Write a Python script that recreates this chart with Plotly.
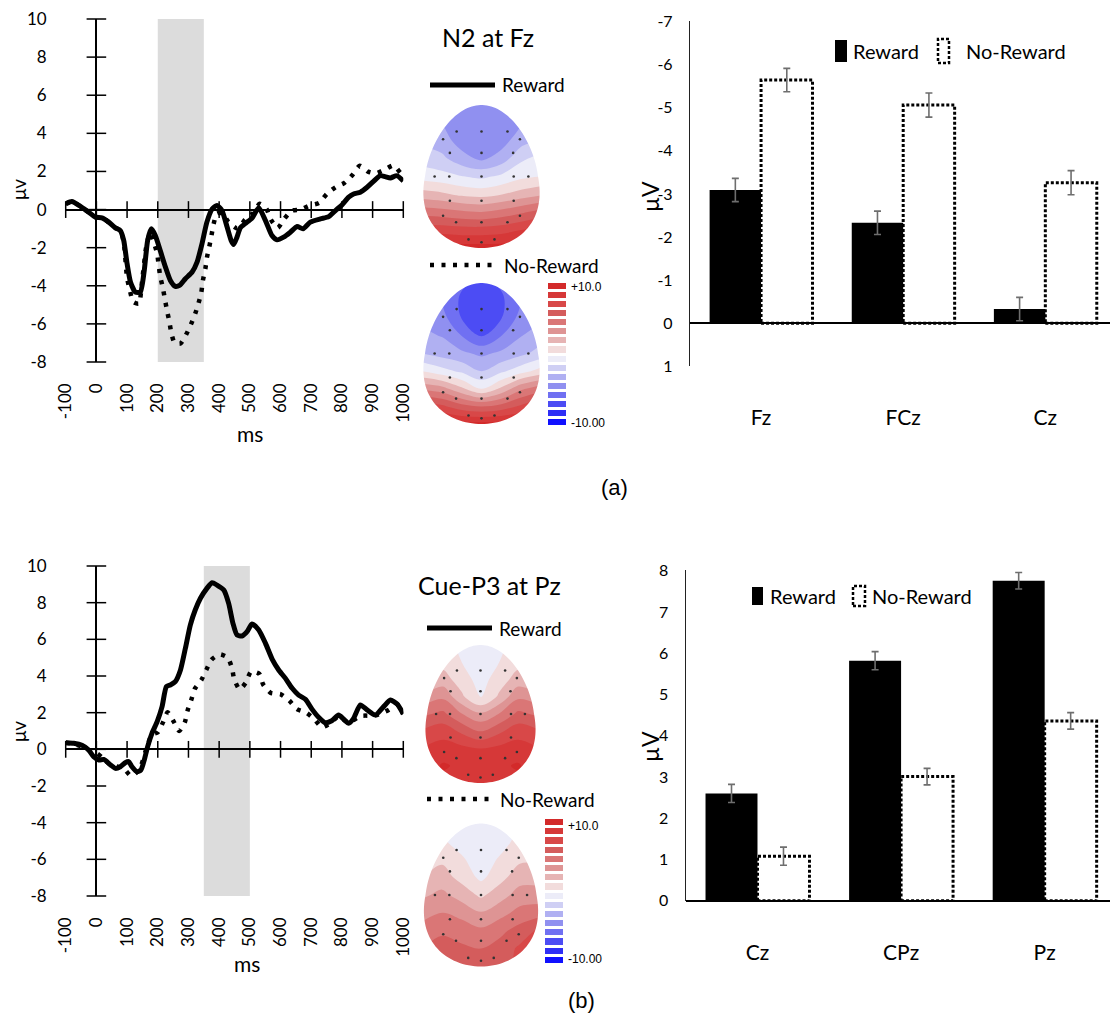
import numpy as np
import plotly.graph_objects as go

# ======================= DATA =======================
time_ticks = [-100, 0, 100, 200, 300, 400, 500, 600, 700, 800, 900, 1000]
uv_ticks = [-8, -6, -4, -2, 0, 2, 4, 6, 8, 10]

# (a) N2 at Fz - Reward (solid)
t_a_rew = [-100, -80, -52, -25, -3, 18, 40, 62, 78, 89, 100, 111, 127, 143, 156, 167, 179, 192, 208, 225,
           241, 257, 271, 290, 312, 328, 344, 360, 377, 393, 409, 426, 439, 447, 458, 469, 486, 507, 529, 551,
           572, 589, 610, 632, 654, 673, 697, 730, 757, 779, 800, 822, 838, 860, 882, 903, 925, 941, 958, 979, 1000]
v_a_rew = [0.30, 0.42, 0.17, -0.14, -0.40, -0.44, -0.66, -0.96, -1.10, -1.62, -2.84, -3.80, -4.33, -4.33, -3.19,
           -1.62, -1.01, -1.36, -2.15, -3.02, -3.72, -4.03, -3.98, -3.63, -3.28, -2.76, -1.80, -0.66, 0.03, 0.21,
           -0.05, -0.92, -1.62, -1.83, -1.45, -0.96, -0.72, -0.45, 0.10, -0.58, -1.36, -1.59, -1.45, -1.19, -0.89,
           -1.01, -0.66, -0.49, -0.37, -0.05, 0.24, 0.65, 0.82, 0.91, 1.17, 1.48, 1.78, 1.73, 1.66, 1.78, 1.50]
# (a) N2 at Fz - No-Reward (dotted)
t_a_nrew = [-100, -80, -52, -25, -3, 18, 40, 62, 78, 89, 100, 110, 120, 138, 150, 162, 175, 187, 198, 203,
            208, 216, 223, 230, 238, 244, 255, 274, 293, 309, 322, 333, 342, 347, 355, 360, 368, 375, 382, 393,
            410, 430, 460, 485, 510, 532, 554, 569, 591, 612, 637, 665, 695, 726, 751, 779, 808, 835, 858, 885,
            910, 939, 968, 991, 1000]
v_a_nrew = [0.30, 0.42, 0.17, -0.14, -0.40, -0.44, -0.66, -0.96, -1.10, -1.70, -3.60, -4.30, -4.85, -4.94, -3.60,
            -2.00, -1.20, -1.71, -2.32, -2.93, -3.51, -4.07, -4.68, -5.29, -5.90, -6.47, -7.00, -7.03, -6.54, -5.99,
            -5.46, -4.90, -4.33, -3.72, -3.11, -2.53, -1.94, -1.36, -0.75, -0.20, -0.20, -0.65, -1.00, -0.52, -0.20,
            0.30, 0.03, -0.54, -0.96, -0.49, -0.05, 0.00, 0.21, 0.35, 0.82, 1.17, 1.40, 1.83, 2.30, 1.99,
            1.90, 2.09, 2.32, 1.92, 1.80]

# (b) Cue-P3 at Pz - Reward (solid)
t_b_rew = [-100, -74, -47, -25, -9, 8, 24, 46, 62, 78, 94, 105, 116, 132, 145, 156, 167, 181, 198, 214,
           228, 241, 257, 274, 290, 306, 322, 339, 360, 377, 393, 415, 431, 445, 458, 474, 491, 507, 529, 551,
           573, 594, 616, 638, 659, 681, 703, 724, 746, 767, 789, 806, 822, 838, 860, 882, 909, 936, 958, 980, 1000]
v_b_rew = [0.36, 0.33, 0.22, -0.04, -0.40, -0.58, -0.55, -0.85, -1.04, -0.95, -0.73, -0.67, -0.95, -1.22, -1.13,
           -0.58, 0.15, 0.87, 1.51, 2.33, 3.42, 3.51, 3.69, 4.33, 5.51, 6.78, 7.60, 8.24, 8.78, 9.09,
           8.96, 8.69, 7.96, 6.87, 6.24, 6.18, 6.42, 6.84, 6.51, 5.78, 4.91, 4.33, 3.87, 3.33, 2.96,
           2.73, 2.18, 1.75, 1.45, 1.56, 1.87, 1.64, 1.42, 1.69, 2.42, 2.15, 1.87, 2.33, 2.69, 2.47, 1.93]
# (b) Cue-P3 at Pz - No-Reward (dotted)
t_b_nrew = [-100, -74, -47, -25, 2, 24, 50, 70, 89, 113, 140, 165, 181, 200, 217, 232, 252, 270, 288, 297,
            309, 321, 342, 358, 375, 402, 428, 442, 449, 467, 487, 504, 531, 543, 567, 601, 629, 653, 684, 710,
            735, 762, 789, 822, 860, 909, 952, 980, 1000]
v_b_nrew = [0.36, 0.30, 0.15, -0.05, -0.22, -0.53, -0.90, -0.95, -1.04, -1.45, -1.10, 0.15, 0.80, 0.93, 1.47,
            2.02, 1.51, 1.00, 1.47, 2.11, 2.69, 3.31, 3.78, 4.33, 4.89, 5.18, 5.00, 4.42, 3.82, 3.27,
            3.64, 4.24, 4.11, 3.55, 3.09, 3.00, 2.65, 2.20, 2.00, 1.65, 1.20, 1.42, 1.80, 1.45, 1.82,
            1.85, 2.15, 2.45, 1.93]

window_a = [200, 350]   # shaded N2 window (ms)
window_b = [350, 500]   # shaded P3 window (ms)

# Bar charts
bar_cats_a = ["Fz", "FCz", "Cz"]
bar_rew_a = [-3.09, -2.33, -0.33]
bar_rew_err_a = [0.27, 0.27, 0.27]
bar_nrew_a = [-5.64, -5.06, -3.26]
bar_nrew_err_a = [0.27, 0.28, 0.28]
bar_ticks_a = [1, 0, -1, -2, -3, -4, -5, -6, -7]

bar_cats_b = ["Cz", "CPz", "Pz"]
bar_rew_b = [2.60, 5.82, 7.76]
bar_rew_err_b = [0.22, 0.22, 0.20]
bar_nrew_b = [1.08, 3.01, 4.36]
bar_nrew_err_b = [0.22, 0.20, 0.20]
bar_ticks_b = [0, 1, 2, 3, 4, 5, 6, 7, 8]

# Topographic maps (µV), rows from front (top) to back (bottom), columns left to right
grid_u = [-1.05, -0.7, -0.35, 0.0, 0.35, 0.7, 1.05]
grid_v = [1.02, 0.75, 0.5, 0.25, 0.0, -0.25, -0.5, -0.75, -1.02]
topo_a_rew = [
    [-3.5, -3.8, -4.3, -4.5, -4.3, -3.8, -3.5],
    [-3.5, -3.8, -4.5, -4.8, -4.5, -3.8, -3.0],
    [-2.8, -3.2, -4.3, -4.8, -4.3, -3.0, -2.3],
    [-1.8, -2.2, -3.3, -4.0, -3.2, -1.5, -0.8],
    [-0.5, -0.8, -1.2, -1.5, -1.0, -0.3, 0.0],
    [1.8, 1.5, 1.0, 0.8, 1.2, 1.8, 2.3],
    [4.5, 4.3, 4.0, 3.8, 4.2, 4.8, 5.5],
    [7.0, 7.0, 6.8, 6.8, 7.0, 7.5, 8.0],
    [9.5, 9.5, 9.5, 9.5, 9.5, 9.5, 9.5],
]
topo_a_nrew = [
    [-4.5, -5.0, -6.0, -6.5, -6.0, -5.0, -4.5],
    [-4.5, -5.0, -6.5, -7.0, -6.5, -5.0, -4.5],
    [-4.0, -4.5, -6.3, -6.8, -6.3, -4.5, -4.0],
    [-3.5, -3.8, -5.0, -6.3, -5.0, -3.8, -3.0],
    [-2.5, -3.0, -3.5, -4.0, -3.5, -2.8, -2.0],
    [0.0, -0.8, -1.5, -2.5, -1.5, -0.5, 0.5],
    [3.5, 3.0, 1.5, 0.0, 1.5, 3.5, 4.5],
    [7.0, 6.5, 5.5, 5.0, 5.5, 6.5, 7.5],
    [9.5, 9.5, 9.5, 9.5, 9.5, 9.5, 9.5],
]
topo_b_rew = [
    [-0.8, 0.3, -0.2, -0.8, -0.2, 0.3, 0.0],
    [-1.5, 0.8, 0.0, -0.6, 0.0, 0.8, 0.3],
    [0.5, 1.8, 0.6, -0.5, 0.6, 1.8, 1.0],
    [2.8, 3.5, 1.5, -0.2, 1.5, 3.5, 3.0],
    [4.8, 5.3, 3.8, 2.7, 3.8, 5.3, 4.8],
    [6.5, 7.0, 6.0, 5.0, 6.0, 7.0, 6.5],
    [7.6, 8.0, 7.8, 7.5, 7.8, 8.0, 7.6],
    [8.0, 8.9, 8.5, 8.3, 8.5, 8.9, 8.0],
    [8.0, 8.3, 8.3, 8.3, 8.3, 8.3, 8.0],
]
topo_b_nrew = [
    [-1.5, -0.5, -0.8, -1.2, -0.8, 0.0, 0.2],
    [-2.0, 0.2, -0.6, -1.0, -0.6, 0.5, 0.3],
    [-0.5, 1.0, 0.2, -0.8, 0.2, 1.0, 1.0],
    [1.2, 1.8, 0.8, -0.3, 0.8, 2.0, 2.0],
    [2.3, 2.8, 2.0, 1.0, 2.0, 3.0, 3.0],
    [3.3, 3.8, 3.3, 2.6, 3.3, 4.2, 4.5],
    [4.3, 4.8, 4.5, 4.0, 4.7, 5.5, 6.5],
    [5.0, 5.5, 5.2, 5.0, 5.5, 6.5, 7.0],
    [5.5, 5.5, 5.5, 5.5, 5.8, 6.5, 7.0],
]
# electrode montage (normalised head coordinates)
elec_u = [-0.44, 0.0, 0.46, -0.68, 0.68, -0.56, 0.0, 0.56, -0.83, -0.57, 0.0, 0.57, 0.83,
          -0.56, 0.0, 0.57, -0.68, 0.68, -0.45, 0.0, 0.46, -0.23, 0.0, 0.23]
elec_v = [0.63, 0.63, 0.63, 0.52, 0.52, 0.33, 0.33, 0.33, 0.0, 0.0, 0.0, 0.0, 0.0,
          -0.34, -0.34, -0.34, -0.55, -0.55, -0.64, -0.64, -0.64, -0.88, -0.92, -0.88]
# 16 colour bands from -10 (blue) to +10 (red)
band_colors = ["#1010ff", "#2e2ef6", "#4c4cf4", "#7070f2", "#9090f0", "#b0b0f2", "#cfcff4", "#ececf8",
               "#f2dcdc", "#e6b4b4", "#de9494", "#da7676", "#d45c5c", "#d84848", "#d63838", "#d32a2a"]
band_index = list(range(len(band_colors)))

# ======================= LAYOUT HELPERS =======================
W, H = 1110, 1016
def px(x):
    return x / W
def py(y):
    return 1 - y / H

FONT_C = "Lato, 'Open Sans', sans-serif"
FONT_A = "'Liberation Sans', Arial, sans-serif"

fig = go.Figure()
annotations = []
shapes = []
layout_axes = {}

def ann(text, x, y, size, family=FONT_C, xanchor='left', yanchor='middle', angle=0, color='black'):
    annotations.append(dict(text=text, x=px(x), y=py(y), xref='paper', yref='paper', showarrow=False,
                            xanchor=xanchor, yanchor=yanchor, textangle=angle,
                            font=dict(family=family, size=size, color=color)))

# ======================= ERP LINE CHARTS =======================
def erp_panel(n, t_r, v_r, t_n, v_n, window, ybox):
    xa = 'x' if n == 1 else f'x{n}'
    ya = 'y' if n == 1 else f'y{n}'
    shapes.append(dict(type='rect', xref=xa, yref=ya, x0=window[0], x1=window[1],
                       y0=uv_ticks[0], y1=uv_ticks[-1], fillcolor='#dcdcdc', line=dict(width=0), layer='below'))
    fig.add_trace(go.Scatter(x=t_n, y=v_n, mode='lines', xaxis=xa, yaxis=ya, hoverinfo='skip',
                             line=dict(color='black', width=4.5, dash='4px,7.5px', shape='spline', smoothing=0.6)))
    fig.add_trace(go.Scatter(x=t_r, y=v_r, mode='lines', xaxis=xa, yaxis=ya, hoverinfo='skip',
                             line=dict(color='black', width=5, shape='spline', smoothing=0.6)))
    # tick crosses on the axes that meet at (0, 0)
    fig.add_trace(go.Scatter(x=time_ticks, y=[0] * len(time_ticks), mode='markers', xaxis=xa, yaxis=ya,
                             hoverinfo='skip', cliponaxis=False,
                             marker=dict(symbol='line-ns', size=12, line=dict(width=1.5, color='black'))))
    fig.add_trace(go.Scatter(x=[0] * len(uv_ticks), y=uv_ticks, mode='markers', xaxis=xa, yaxis=ya,
                             hoverinfo='skip', cliponaxis=False,
                             marker=dict(symbol='line-ew', size=14, line=dict(width=1.5, color='black'))))
    xkey = 'xaxis' if n == 1 else f'xaxis{n}'
    ykey = 'yaxis' if n == 1 else f'yaxis{n}'
    layout_axes[xkey] = dict(domain=[px(65.7), px(403.3)], range=[-100, 1000], anchor=ya, automargin=False,
                             tickmode='array', tickvals=time_ticks, ticktext=[str(t) for t in time_ticks],
                             tickangle=-90, ticks='', showgrid=False, showline=False,
                             zeroline=True, zerolinecolor='black', zerolinewidth=1.6,
                             tickfont=dict(family=FONT_C, size=17, color='black'), ticklabelstandoff=17)
    layout_axes[ykey] = dict(domain=[py(ybox[1]), py(ybox[0])], range=[uv_ticks[0], uv_ticks[-1]], anchor=xa,
                             automargin=False, tickmode='array', tickvals=uv_ticks,
                             ticktext=[str(v) for v in uv_ticks],
                             ticks='', showgrid=False, showline=False,
                             zeroline=True, zerolinecolor='black', zerolinewidth=1.6,
                             tickfont=dict(family=FONT_C, size=17, color='black'), ticklabelstandoff=18)

erp_panel(1, t_a_rew, v_a_rew, t_a_nrew, v_a_nrew, window_a, (19, 362))
erp_panel(2, t_b_rew, v_b_rew, t_b_nrew, v_b_nrew, window_b, (566, 896))

ann("ms", 250, 433, 21, xanchor='center')
ann("ms", 247, 963, 21, xanchor='center')
ann("μv", 18, 190, 19, xanchor='center', angle=-90)
ann("μv", 18, 732, 19, xanchor='center', angle=-90)

# ======================= BAR CHARTS =======================
BW = 0.362
def bar_panel(n, cats, rew, rew_err, nrew, nrew_err, ticks, xbox, ybox, yrange):
    xa, ya = f'x{n}', f'y{n}'
    idx = list(range(len(cats)))
    fig.add_trace(go.Bar(x=idx, y=rew, width=BW, offset=-BW, xaxis=xa, yaxis=ya, hoverinfo='skip',
                         marker=dict(color='black', line=dict(width=0)),
                         error_y=dict(type='data', array=rew_err, color='#6e6e6e', thickness=1.6, width=3.5)))
    fig.add_trace(go.Bar(x=idx, y=nrew, width=BW, offset=0, xaxis=xa, yaxis=ya, hoverinfo='skip',
                         marker=dict(color='rgba(255,255,255,0)', line=dict(width=0)),
                         error_y=dict(type='data', array=nrew_err, color='#6e6e6e', thickness=1.6, width=3.5)))
    for i, v in zip(idx, nrew):
        shapes.append(dict(type='rect', xref=xa, yref=ya, x0=i, x1=i + BW, y0=0, y1=v,
                           line=dict(color='black', width=3, dash='3px,2px'), fillcolor='white', layer='below'))
    layout_axes[f'xaxis{n}'] = dict(domain=[px(xbox[0]), px(xbox[1])], range=[-0.5, 2.455], anchor=ya,
                                    automargin=False, tickmode='array', tickvals=idx, ticktext=cats, ticks='',
                                    showgrid=False, showline=False, zeroline=False,
                                    tickfont=dict(family=FONT_C, size=21, color='black'), ticklabelstandoff=37)
    layout_axes[f'yaxis{n}'] = dict(domain=[py(ybox[1]), py(ybox[0])], range=yrange, anchor=xa,
                                    automargin=False, tickmode='array', tickvals=ticks,
                                    ticktext=[str(t) for t in ticks],
                                    ticks='', showgrid=False, showline=True, linecolor='#222', linewidth=1.3,
                                    zeroline=True, zerolinecolor='black', zerolinewidth=2,
                                    tickfont=dict(family=FONT_C, size=16, color='black'), ticklabelstandoff=13)

bar_panel(3, bar_cats_a, bar_rew_a, bar_rew_err_a, bar_nrew_a, bar_nrew_err_a, bar_ticks_a,
          (690, 1110), (21.4, 366.4), [1.0, -7.0])
bar_panel(4, bar_cats_b, bar_rew_b, bar_rew_err_b, bar_nrew_b, bar_nrew_err_b, bar_ticks_b,
          (685.7, 1110), (570, 900.7), [0, 8.02])

ann("µV", 650, 197, 23, xanchor='center', angle=-90)
ann("µV", 650, 747, 23, xanchor='center', angle=-90)

# bar legends
def bar_legend(bx, by, tx1, nx, tx2, ty):
    shapes.append(dict(type='rect', xref='paper', yref='paper', x0=px(bx[0]), x1=px(bx[1]),
                       y0=py(by[1]), y1=py(by[0]), fillcolor='black', line=dict(width=0)))
    shapes.append(dict(type='rect', xref='paper', yref='paper', x0=px(nx[0]), x1=px(nx[1]),
                       y0=py(by[1] + 1), y1=py(by[0] - 1), fillcolor='white',
                       line=dict(color='black', width=2.5, dash='3px,2px')))
    ann("Reward", tx1, ty, 20)
    ann("No-Reward", tx2, ty, 20)

bar_legend((835, 847), (40, 62), 851, (938, 949), 964, 51)
bar_legend((752, 763), (587, 605), 768, (853, 865), 870, 596)

# ======================= TOPOGRAPHIC MAPS =======================
# stepped colour mapping so each contour band gets exactly one band colour
cs_contour = [[0, band_colors[0]]] + [[(k + 1) / 17, c] for k, c in enumerate(band_colors)] + [[1, band_colors[-1]]]
cs_bar = [[k / (len(band_colors) - 1), c] for k, c in enumerate(band_colors)]

# egg-shaped scalp outline used as a white mask around each map
th = np.linspace(-np.pi / 2, 3 * np.pi / 2, 140)
ev = np.sin(th)
ef = np.where(ev > 0, 1 - 0.15 * ev, 1 - 0.25 * ev)
eu = np.cos(th) * ef
egg = " L".join(f"{a:.4f},{b:.4f}" for a, b in zip(eu, ev))
mask_path = "M-1.5,-1.5 L1.5,-1.5 L1.5,1.5 L-1.5,1.5 Z M" + egg + " Z"

XR, YR = 1.1, 1.06
heads = [
    (5, topo_a_rew, (481.5, 176.5, 56.5, 71.5)),
    (6, topo_a_nrew, (481.5, 353.5, 56.5, 70.5)),
    (7, topo_b_rew, (480.5, 714.0, 53.5, 69.0)),
    (8, topo_b_nrew, (481.0, 895.0, 55.5, 71.5)),
]
for n, z, (cx, cy, hw, hh) in heads:
    xa, ya = f'x{n}', f'y{n}'
    fig.add_trace(go.Contour(x=grid_u, y=grid_v, z=z, xaxis=xa, yaxis=ya, colorscale=cs_contour,
                             showscale=False, hoverinfo='skip', line=dict(width=0),
                             contours=dict(start=-10, end=10, size=1.25, coloring='fill', showlines=False)))
    fig.add_trace(go.Scatter(x=elec_u, y=elec_v, mode='markers', xaxis=xa, yaxis=ya, hoverinfo='skip',
                             marker=dict(size=2.6, color='#333333')))
    shapes.append(dict(type='path', path=mask_path, xref=xa, yref=ya, fillcolor='white',
                       fillrule='evenodd', line=dict(width=0), layer='above'))
    layout_axes[f'xaxis{n}'] = dict(domain=[px(cx - XR * hw), px(cx + XR * hw)], range=[-XR, XR],
                                    anchor=ya, visible=False, automargin=False)
    layout_axes[f'yaxis{n}'] = dict(domain=[py(cy + YR * hh), py(cy - YR * hh)], range=[-YR, YR],
                                    anchor=xa, visible=False, automargin=False)

# colour bars
for n, (x0, x1, y0, y1) in [(9, (548, 566, 282, 427)), (10, (545, 563, 818, 965))]:
    xa, ya = f'x{n}', f'y{n}'
    fig.add_trace(go.Heatmap(x=[0], y=band_index, z=[[b] for b in band_index], xaxis=xa, yaxis=ya,
                             colorscale=cs_bar, zmin=band_index[0], zmax=band_index[-1], showscale=False,
                             ygap=3, hoverinfo='skip'))
    layout_axes[f'xaxis{n}'] = dict(domain=[px(x0), px(x1)], range=[-0.5, 0.5], anchor=ya, visible=False,
                                    automargin=False)
    layout_axes[f'yaxis{n}'] = dict(domain=[py(y1), py(y0)], range=[-0.5, 15.5], anchor=xa, visible=False,
                                    automargin=False)

# titles & legends in the middle column
ann("N2 at Fz", 440, 37, 25)
ann("Cue-P3 at Pz", 416, 585, 25)
for (lx0, lx1, ly, tx, dotted, label) in [(430, 495, 85, 500, False, "Reward"),
                                          (430, 492, 265, 502, True, "No-Reward"),
                                          (427, 492, 628, 497, False, "Reward"),
                                          (427, 490, 799, 498, True, "No-Reward")]:
    shapes.append(dict(type='line', xref='paper', yref='paper', x0=px(lx0), x1=px(lx1), y0=py(ly), y1=py(ly),
                       line=dict(color='black', width=4.5 if dotted else 5, dash='4px,7.5px' if dotted else 'solid')))
    ann(label, tx, ly, 19)

ann("+10.0", 569, 287, 12, family=FONT_A)
ann("-10.00", 569, 423, 12, family=FONT_A)
ann("+10.0", 566, 826, 12, family=FONT_A)
ann("-10.00", 566, 959, 12, family=FONT_A)

ann("(a)", 614, 487, 22, family=FONT_A, xanchor='center')
ann("(b)", 581, 1000, 22, family=FONT_A, xanchor='center')

fig.update_layout(template='none', width=W, height=H, margin=dict(l=0, r=0, t=0, b=0, pad=0),
                  paper_bgcolor='white', plot_bgcolor='rgba(0,0,0,0)', showlegend=False,
                  barmode='overlay', annotations=annotations, shapes=shapes, **layout_axes)

fig.write_html("out.html")
